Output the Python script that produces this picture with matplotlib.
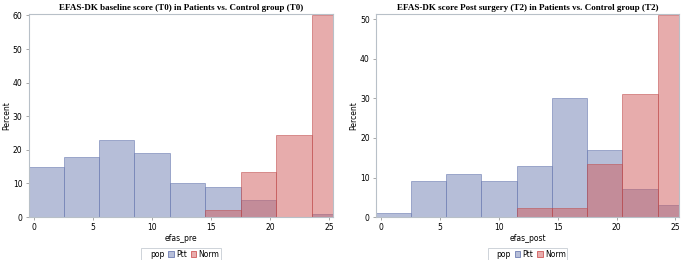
import matplotlib
matplotlib.use("Agg")
from matplotlib import pyplot as plt
from matplotlib.patches import Patch
import numpy as np

# bin centres (width 3)
centers = [1, 4, 7, 10, 13, 16, 19, 22, 25]

# baseline (T0), percent
pre_ptt = [15, 18, 23, 19, 10, 9, 5, 0, 1]
pre_norm = [0, 0, 0, 0, 0, 2.2, 13.3, 24.4, 60]

# post surgery (T2), percent
post_ptt = [1, 9, 11, 9, 13, 30, 17, 7, 3]
post_norm = [0, 0, 0, 0, 2.2, 2.2, 13.3, 31.1, 51.1]

titles = ["EFAS-DK baseline score (T0) in Patients vs. Control group (T0)",
          "EFAS-DK score Post surgery (T2) in Patients vs. Control group (T2)"]
xlabels = ["efas_pre", "efas_post"]
yticks_list = [[0, 10, 20, 30, 40, 50, 60], [0, 10, 20, 30, 40, 50]]
ymax_list = [60.4, 51.3]

blue_fill = (0.435, 0.494, 0.702, 0.5)
red_fill = (0.816, 0.357, 0.357, 0.5)

fig = plt.figure(figsize=(6.85, 2.6), dpi=100)
ax1 = fig.add_axes([0.042, 0.165, 0.444, 0.781])
ax2 = fig.add_axes([0.549, 0.165, 0.442, 0.781])

for ax, ptt, norm, title, xl, yt, ym in zip(
        [ax1, ax2], [pre_ptt, post_ptt], [pre_norm, post_norm],
        titles, xlabels, yticks_list, ymax_list):
    ax.bar(centers, ptt, width=3, facecolor=blue_fill,
           edgecolor=(0.435, 0.494, 0.702, 0.6), linewidth=0.7)
    ax.bar(centers, norm, width=3, facecolor=red_fill,
           edgecolor=(0.75, 0.3, 0.3, 0.55), linewidth=0.7)
    ax.set_xlim(-0.45, 25.3)
    ax.set_ylim(0, ym)
    ax.set_xticks([0, 5, 10, 15, 20, 25])
    ax.set_yticks(yt)
    ax.tick_params(labelsize=5.5, length=2.5, width=0.6, color="#999999", pad=2)
    for s in ax.spines.values():
        s.set_color("#b8c0c8")
        s.set_linewidth(0.8)
    ax.set_title(title, fontsize=6.5, fontweight="bold",
                 family="Liberation Serif", pad=3)
    ax.set_xlabel(xl, fontsize=5.5, labelpad=1.5)
    ax.set_ylabel("Percent", fontsize=5.5)
    ax.yaxis.set_label_coords(-0.058, 0.5)
    pos = ax.get_position()
    handles = [Patch(facecolor="none", edgecolor="none"),
               Patch(facecolor=blue_fill, edgecolor="#6F7EB3", linewidth=0.6),
               Patch(facecolor=red_fill, edgecolor="#D05B5B", linewidth=0.6)]
    leg = fig.legend(handles, ["pop", "Ptt", "Norm"], loc="center",
                     bbox_to_anchor=((pos.x0 + pos.x1) / 2, 0.023),
                     bbox_transform=fig.transFigure, ncol=3, fontsize=5.5,
                     frameon=True, fancybox=False, handlelength=0.7,
                     handleheight=0.7, handletextpad=0.3, columnspacing=0.5,
                     borderpad=0.2)
    leg.get_frame().set_edgecolor("#b8c0c8")
    leg.get_frame().set_linewidth(0.6)
    # no marker for the "pop" label
    leg.legend_handles[0].set_visible(False)

fig.savefig("out.png", dpi=100)
